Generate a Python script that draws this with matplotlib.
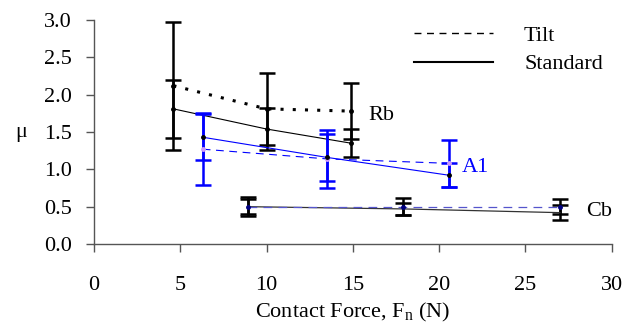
import numpy as np
import matplotlib
matplotlib.use('Agg')
import matplotlib.pyplot as plt
from matplotlib.lines import Line2D

plt.rcParams['font.family'] = ['Liberation Serif', 'DejaVu Serif']
plt.rcParams['mathtext.fontset'] = 'custom'
plt.rcParams['mathtext.rm'] = 'Liberation Serif'

# Rb
rb_x = [4.6, 10.0, 14.9]
rb_std = [1.81, 1.54, 1.35]
rb_std_err = [0.39, 0.28, 0.19]
rb_tilt = [2.12, 1.81, 1.78]
rb_tilt_err = [0.86, 0.48, 0.37]

# A1
a1_x = [6.3, 13.5, 20.6]
a1_std = [1.43, 1.16, 0.92]
a1_std_err = [0.31, 0.31, 0.16]
a1_tilt = [1.27, 1.14, 1.08]
a1_tilt_err = [0.48, 0.39, 0.31]

# Cb
cb_x = [8.9, 17.9, 27.0]
cb_std = [0.50, 0.47, 0.42]
cb_std_err = [0.10, 0.08, 0.10]
cb_tilt = [0.50, 0.50, 0.50]
cb_tilt_err = [0.13, 0.11, 0.10]

FS = 16

fig = plt.figure(figsize=(6.38, 3.27), dpi=100)
ax = fig.add_axes([0.1473, 0.2538, 0.8115, 0.685])

eb = dict(fmt='none', elinewidth=1.8, capsize=6, capthick=1.8)

# Rb
ax.errorbar(rb_x, rb_tilt, yerr=rb_tilt_err, ecolor='black', **eb)
ax.errorbar(rb_x, rb_std, yerr=rb_std_err, ecolor='black', **eb)
ax.plot(rb_x, rb_tilt, color='black', lw=2.2, linestyle=(0, (1, 3)))
ax.plot(rb_x, rb_std, color='black', lw=0.8)
ax.plot(rb_x, rb_tilt, 'o', color='black', ms=2.5)
ax.plot(rb_x, rb_std, 'o', color='black', ms=2.5)

# A1
ax.errorbar(a1_x, a1_tilt, yerr=a1_tilt_err, ecolor='#0000ff', **eb)
ax.errorbar(a1_x, a1_std, yerr=a1_std_err, ecolor='#0000ff', **eb)
ax.plot(a1_x, a1_tilt, color='#0000ff', lw=0.8, dashes=(7, 5))
ax.plot(a1_x, a1_std, color='#0000ff', lw=0.8)
ax.plot(a1_x, a1_tilt, 'o', color='#cc99ff', ms=2.5)
ax.plot(a1_x, a1_std, 'o', color='black', ms=2.5)

# Cb
ax.errorbar(cb_x, cb_tilt, yerr=cb_tilt_err, ecolor='black', **eb)
ax.errorbar(cb_x, cb_std, yerr=cb_std_err, ecolor='black', **eb)
ax.plot(cb_x, cb_std, color='#333333', lw=0.9)
ax.plot(cb_x, cb_tilt, color='#5555cc', lw=0.9, dashes=(7, 5))
ax.plot(cb_x, cb_tilt, 'o', color='#000080', ms=2.5)

ax.text(15.9, 1.72, 'Rb', fontsize=FS, va='center')
ax.text(21.3, 1.02, 'A1', fontsize=FS, color='#0000ff', va='center')
ax.text(28.5, 0.43, 'Cb', fontsize=FS, va='center')

handles = [Line2D([], [], color='black', lw=1.0, dashes=(5, 4)),
           Line2D([], [], color='black', lw=1.5)]
fig.legend(handles, ['Tilt', 'Standard'], loc='upper left', frameon=False,
           fontsize=FS, handlelength=3.55, handletextpad=1.4,
           labelspacing=0.35, borderpad=0, borderaxespad=0,
           bbox_to_anchor=(0.649, 0.922))

ax.set_xlim(0, 30)
ax.set_ylim(0, 3)
ax.set_xticks(np.arange(0, 31, 5))
ax.set_yticks(np.arange(0, 3.01, 0.5))
ax.set_yticklabels(['%.1f' % v for v in np.arange(0, 3.01, 0.5)])
ax.spines['top'].set_visible(False)
ax.spines['right'].set_visible(False)
for s in ['left', 'bottom']:
    ax.spines[s].set_color('#555555')
    ax.spines[s].set_linewidth(1.0)
ax.tick_params(axis='both', direction='out', length=6, width=1.0,
               color='#555555', labelsize=FS)
ax.tick_params(axis='y', pad=10)
ax.tick_params(axis='x', pad=17)

ax.set_xlabel('Contact Force, F$_{\\mathrm{n}}$ (N)', fontsize=FS, labelpad=4)
ax.set_ylabel('\u03bc', fontsize=FS, rotation=0, labelpad=16, va='center')

fig.savefig('out.png', dpi=100)
